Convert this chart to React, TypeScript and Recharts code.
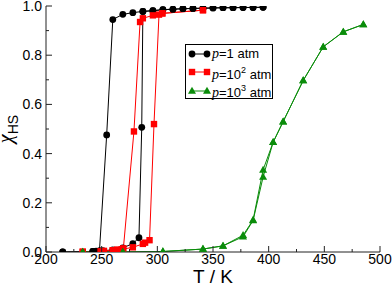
import React from "react";
import { LineChart, Line, XAxis, YAxis, Legend, Label } from "recharts";

// p = 1 atm
const p1HeatT = [215, 242, 245, 248, 251, 260, 269, 278, 283.5, 286, 287, 296, 305, 314, 323, 332, 341, 350, 359, 368, 377, 386, 395];
const p1HeatX = [0, 0.002, 0.003, 0.004, 0.005, 0.009, 0.017, 0.034, 0.058, 0.507, 0.978, 0.981, 0.985, 0.987, 0.989, 0.99, 0.991, 0.992, 0.993, 0.993, 0.994, 0.994, 0.995];
const p1CoolT = [395, 386, 377, 368, 359, 350, 341, 332, 323, 314, 305, 296, 287, 278, 269, 260, 254.5, 248, 242, 215];
const p1CoolX = [0.995, 0.994, 0.994, 0.993, 0.993, 0.992, 0.991, 0.99, 0.989, 0.987, 0.985, 0.981, 0.978, 0.973, 0.966, 0.945, 0.476, 0.004, 0.002, 0];

// p = 10^2 atm
const p2HeatT = [233, 249, 252, 260, 264, 268, 278, 287, 289, 293, 297, 301.5, 304.5, 341];
const p2HeatX = [0.001, 0.003, 0.004, 0.007, 0.009, 0.011, 0.019, 0.033, 0.038, 0.048, 0.52, 0.965, 0.97, 0.983];
const p2CoolT = [341, 304.5, 296, 287, 284.5, 279, 269.5, 264, 260, 252, 233];
const p2CoolX = [0.983, 0.97, 0.962, 0.95, 0.935, 0.49, 0.015, 0.009, 0.007, 0.004, 0.001];

// p = 10^3 atm
const p3T = [233, 269, 305, 341, 359, 377, 386, 395, 404, 413, 431, 449, 467, 485];
const p3HeatX = [0, 0, 0.002, 0.012, 0.025, 0.062, 0.128, 0.305, 0.446, 0.53, 0.697, 0.834, 0.895, 0.925];
const p3CoolX = [0, 0, 0.002, 0.012, 0.025, 0.068, 0.13, 0.334, 0.446, 0.53, 0.697, 0.834, 0.895, 0.925];

const xTicks = [200, 225, 250, 275, 300, 325, 350, 375, 400, 425, 450, 475, 500];
const yTicks = [0, 0.1, 0.2, 0.3, 0.4, 0.5, 0.6, 0.7, 0.8, 0.9, 1.0];

const BLACK = "#000000";
const RED = "#ff0000";
const GREEN = "#0a8c0a";
const AXIS = "#222222";
const SANS = "'Liberation Sans', Arial, sans-serif";
const SERIF = "'Liberation Serif', 'Times New Roman', serif";

const zip = (t: number[], x: number[]) => t.map((T, i) => ({ T, x: x[i] }));

const isMajorX = (v: number) => v % 50 === 0;
const isMajorY = (v: number) => Math.round(v * 10) % 2 === 0;

const BottomTick = (props: any) => {
  const { x, y, payload } = props;
  const major = isMajorX(payload.value);
  return (
    <g>
      <line x1={x} x2={x} y1={y} y2={y - (major ? 6 : 3)} stroke={AXIS} />
      {major && (
        <text x={x} y={y + 12} textAnchor="middle" fontSize={14} fontFamily={SANS} fill="#000">
          {payload.value}
        </text>
      )}
    </g>
  );
};

const TopTick = (props: any) => {
  const { x, y, payload } = props;
  const major = isMajorX(payload.value);
  return <line x1={x} x2={x} y1={y} y2={y + (major ? 6 : 3)} stroke={AXIS} />;
};

const LeftTick = (props: any) => {
  const { x, y, payload } = props;
  const major = isMajorY(payload.value);
  return (
    <g>
      <line x1={x} x2={x + (major ? 6 : 3)} y1={y} y2={y} stroke={AXIS} />
      {major && (
        <text x={x - 4} y={y + 5} textAnchor="end" fontSize={14} fontFamily={SANS} fill="#000">
          {payload.value.toFixed(1)}
        </text>
      )}
    </g>
  );
};

const RightTick = (props: any) => {
  const { x, y, payload } = props;
  const major = isMajorY(payload.value);
  return <line x1={x} x2={x - (major ? 6 : 3)} y1={y} y2={y} stroke={AXIS} />;
};

const Circle = (props: any) => {
  const { cx, cy, index } = props;
  if (cx == null || cy == null) return <g key={index} />;
  return <circle key={index} cx={cx} cy={cy} r={3.4} fill={BLACK} />;
};

const Square = (props: any) => {
  const { cx, cy, index } = props;
  if (cx == null || cy == null) return <g key={index} />;
  return <rect key={index} x={cx - 3.2} y={cy - 3.2} width={6.4} height={6.4} fill={RED} />;
};

const Triangle = (props: any) => {
  const { cx, cy, index } = props;
  if (cx == null || cy == null) return <g key={index} />;
  return <path key={index} d={`M${cx},${cy - 4.2}L${cx + 4},${cy + 2.8}L${cx - 4},${cy + 2.8}Z`} fill={GREEN} />;
};

const legendRows = [
  { color: BLACK, mark: "circle", exp: "", base: "1" },
  { color: RED, mark: "square", exp: "2", base: "10" },
  { color: GREEN, mark: "triangle", exp: "3", base: "10" },
];

const LegendMark = ({ mark, color, cx, cy }: { mark: string; color: string; cx: number; cy: number }) => {
  if (mark === "circle") return <circle cx={cx} cy={cy} r={3.4} fill={color} />;
  if (mark === "square") return <rect x={cx - 3.2} y={cy - 3.2} width={6.4} height={6.4} fill={color} />;
  return <path d={`M${cx},${cy - 4.2}L${cx + 4},${cy + 2.8}L${cx - 4},${cy + 2.8}Z`} fill={color} />;
};

const renderLegend = () => (
  <div
    style={{
      border: "1px solid #000",
      background: "#fff",
      width: 86,
      height: 53,
      boxSizing: "content-box",
      paddingTop: 0,
    }}
  >
    {legendRows.map((r) => (
      <div key={r.mark} style={{ display: "flex", alignItems: "center", height: 18.3 }}>
        <svg width={26} height={12} style={{ flex: "none" }}>
          <line x1={6} x2={21} y1={6} y2={6} stroke={r.color} strokeWidth={1} />
          <LegendMark mark={r.mark} color={r.color} cx={6} cy={6} />
          <LegendMark mark={r.mark} color={r.color} cx={21} cy={6} />
        </svg>
        <span style={{ fontFamily: SANS, fontSize: 13, color: "#000", whiteSpace: "nowrap", lineHeight: "14px" }}>
          <i style={{ fontFamily: SERIF, fontSize: 14 }}>p</i>={r.base}
          {r.exp && <sup style={{ fontSize: 9, verticalAlign: 6 }}>{r.exp}</sup>} atm
        </span>
      </div>
    ))}
  </div>
);

export default function App() {
  return (
    <div style={{ position: "fixed", left: 0, top: 0, width: 392, height: 286, background: "#fff" }}>
      <LineChart width={392} height={286} margin={{ top: 6, right: 12, bottom: 0, left: 6 }}>
        <XAxis
          xAxisId="b"
          dataKey="T"
          type="number"
          domain={[200, 500]}
          ticks={xTicks}
          interval={0}
          allowDataOverflow
          height={34}
          tickSize={0}
          tickMargin={0}
          tickLine={false}
          axisLine={{ stroke: AXIS }}
          tick={<BottomTick />}
        >
          <Label
            content={({ viewBox }: any) => (
              <text
                x={viewBox.x + viewBox.width / 2}
                y={viewBox.y + 31}
                textAnchor="middle"
                fontSize={19}
                fontFamily={SANS}
                fill="#000"
              >
                T / K
              </text>
            )}
          />
        </XAxis>
        <XAxis
          xAxisId="t"
          orientation="top"
          dataKey="T"
          type="number"
          domain={[200, 500]}
          ticks={xTicks}
          interval={0}
          allowDataOverflow
          height={0}
          tickSize={0}
          tickMargin={0}
          tickLine={false}
          axisLine={{ stroke: AXIS }}
          tick={<TopTick />}
        />
        <YAxis
          yAxisId="l"
          type="number"
          domain={[0, 1]}
          ticks={yTicks}
          interval={0}
          allowDataOverflow
          width={40}
          tickSize={0}
          tickMargin={0}
          tickLine={false}
          axisLine={{ stroke: AXIS }}
          tick={<LeftTick />}
        >
          <Label
            content={({ viewBox }: any) => {
              const cx = viewBox.x + 6;
              const cy = viewBox.y + viewBox.height / 2;
              return (
                <text transform={`translate(${cx},${cy}) rotate(-90)`} textAnchor="middle" fill="#000">
                  <tspan fontFamily={SERIF} fontStyle="italic" fontSize={20}>
                    χ
                  </tspan>
                  <tspan fontFamily={SANS} fontSize={14} dy={6}>
                    HS
                  </tspan>
                </text>
              );
            }}
          />
        </YAxis>
        <YAxis
          yAxisId="r"
          orientation="right"
          type="number"
          domain={[0, 1]}
          ticks={yTicks}
          interval={0}
          allowDataOverflow
          width={0}
          tickSize={0}
          tickMargin={0}
          tickLine={false}
          axisLine={{ stroke: AXIS }}
          tick={<RightTick />}
        />

        <Line xAxisId="b" yAxisId="l" data={zip(p1HeatT, p1HeatX)} dataKey="x" type="linear" stroke={BLACK} strokeWidth={1} dot={Circle} isAnimationActive={false} legendType="none" />
        <Line xAxisId="b" yAxisId="l" data={zip(p1CoolT, p1CoolX)} dataKey="x" type="linear" stroke={BLACK} strokeWidth={1} dot={Circle} isAnimationActive={false} legendType="none" />
        <Line xAxisId="b" yAxisId="l" data={zip(p2HeatT, p2HeatX)} dataKey="x" type="linear" stroke={RED} strokeWidth={1} dot={Square} isAnimationActive={false} legendType="none" />
        <Line xAxisId="b" yAxisId="l" data={zip(p2CoolT, p2CoolX)} dataKey="x" type="linear" stroke={RED} strokeWidth={1} dot={Square} isAnimationActive={false} legendType="none" />
        <Line xAxisId="b" yAxisId="l" data={zip(p3T, p3HeatX)} dataKey="x" type="linear" stroke={GREEN} strokeWidth={1} dot={Triangle} isAnimationActive={false} legendType="none" />
        <Line xAxisId="b" yAxisId="l" data={zip(p3T, p3CoolX)} dataKey="x" type="linear" stroke={GREEN} strokeWidth={1} dot={Triangle} isAnimationActive={false} legendType="none" />

        <Legend
          layout="vertical"
          align="center"
          verticalAlign="middle"
          content={renderLegend}
          wrapperStyle={{ left: 185, top: 44, width: 88, height: 55 }}
        />
      </LineChart>
    </div>
  );
}
